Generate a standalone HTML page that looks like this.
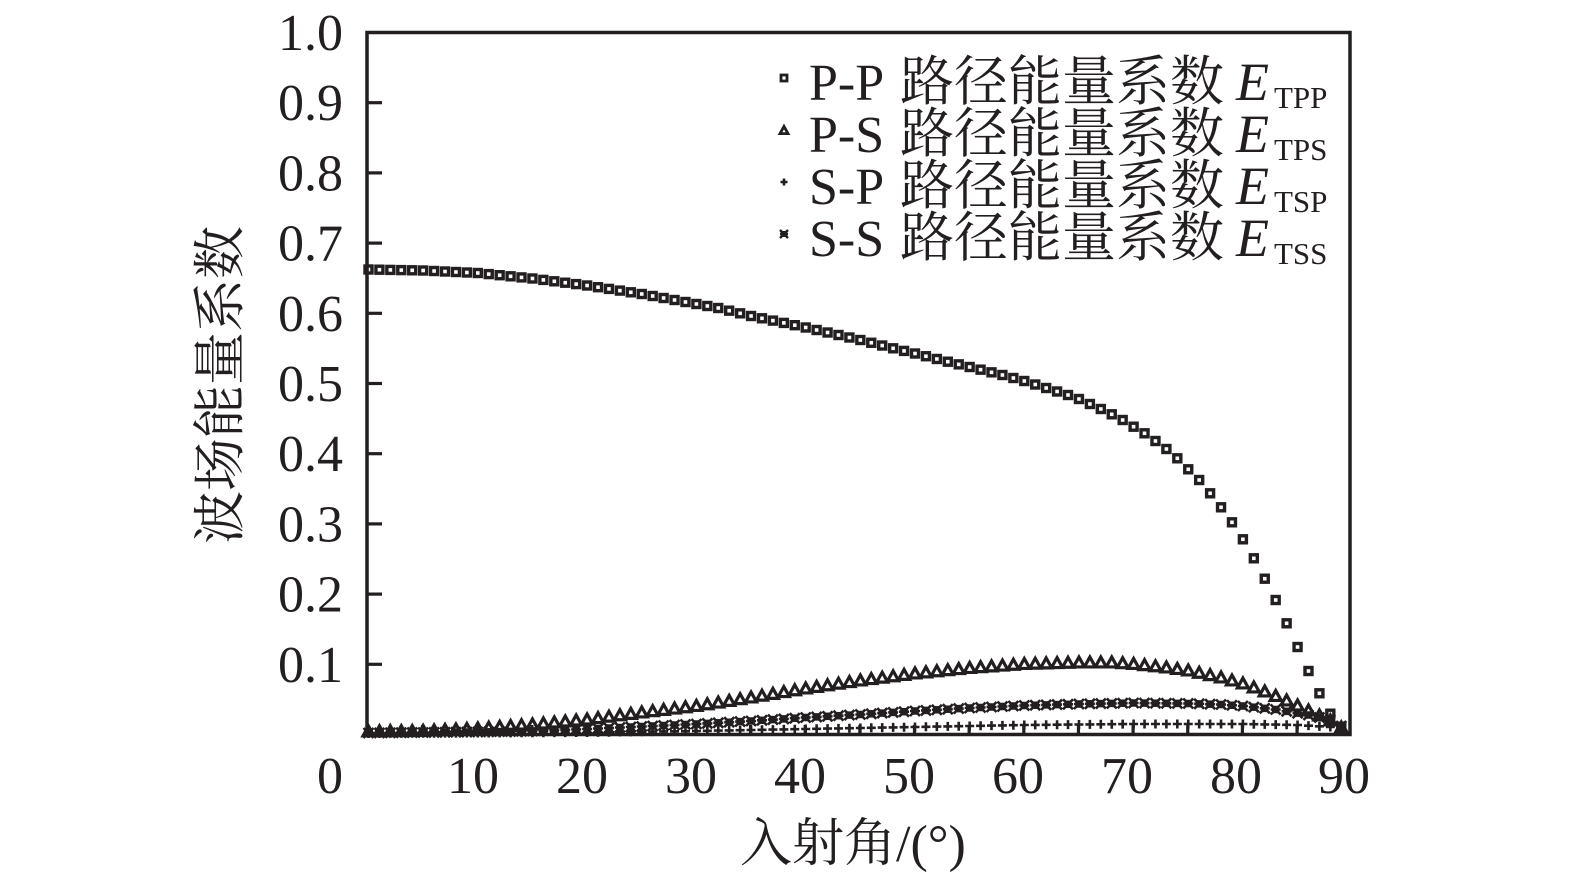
<!DOCTYPE html>
<html>
<head>
<meta charset="utf-8">
<style>
html,body{margin:0;padding:0;background:#fff;}
svg{display:block;}
text{fill:#231f20;}
.lat{font-family:"Liberation Serif","Noto Serif CJK SC",serif;}
.cjk{font-family:"Liberation Serif","Noto Serif CJK SC","Noto Sans CJK SC",serif;}
</style>
</head>
<body>
<svg id="chart" xmlns="http://www.w3.org/2000/svg" width="1575" height="888" viewBox="0 0 1575 888">
  <rect x="0" y="0" width="1575" height="888" fill="#fff"/>
  <g id="series"></g>
  <!-- frame -->
  <rect x="367" y="32.5" width="983" height="702" fill="none" stroke="#231f20" stroke-width="3.5"/>
  <g id="ticks" stroke="#231f20" stroke-width="3.2"></g>

  <!-- y tick labels -->
  <g class="lat" font-size="52" text-anchor="end">
    <text x="343" y="50">1.0</text>
    <text x="343" y="120.2">0.9</text>
    <text x="343" y="190.4">0.8</text>
    <text x="343" y="260.6">0.7</text>
    <text x="343" y="330.8">0.6</text>
    <text x="343" y="401">0.5</text>
    <text x="343" y="471.2">0.4</text>
    <text x="343" y="541.4">0.3</text>
    <text x="343" y="611.6">0.2</text>
    <text x="343" y="681.8">0.1</text>
  </g>
  <!-- x tick labels -->
  <g class="lat" font-size="52" text-anchor="middle">
    <text x="330" y="793">0</text>
    <text x="473" y="793">10</text>
    <text x="582" y="793">20</text>
    <text x="691" y="793">30</text>
    <text x="800" y="793">40</text>
    <text x="909" y="793">50</text>
    <text x="1018" y="793">60</text>
    <text x="1127" y="793">70</text>
    <text x="1236" y="793">80</text>
    <text x="1344" y="793">90</text>
  </g>
  <!-- axis titles -->
  <text class="cjk" x="740" y="861" font-size="52">入射角/(°)</text>
  <text class="cjk" x="0" y="0" font-size="53" text-anchor="middle" dominant-baseline="central" transform="translate(221,385) rotate(-90)">波场能量系数</text>

  <!-- legend -->
  <g id="legend"></g>
</svg>
<script>
(function(){
  var NS="http://www.w3.org/2000/svg";
  var C="#231f20";
  var series=document.getElementById('series');
  var ticks=document.getElementById('ticks');
  var legend=document.getElementById('legend');
  function el(tag,attrs,parent){var e=document.createElementNS(NS,tag);for(var k in attrs)e.setAttribute(k,attrs[k]);(parent||series).appendChild(e);return e;}
  function X(d){return 368.5+10.93*d;}
  function interp(kn,d){
    var ks=Object.keys(kn).map(Number).sort(function(a,b){return a-b;});
    if(d<=ks[0])return kn[ks[0]];
    for(var i=0;i<ks.length-1;i++){
      var a=ks[i],b=ks[i+1];
      if(d>=a&&d<=b){var t=(d-a)/(b-a);return kn[a]+(kn[b]-kn[a])*t;}
    }
    return kn[ks[ks.length-1]];
  }
  // ticks
  for(var k=1;k<=9;k++){var y=734.5-70.2*k;el('line',{x1:367,y1:y,x2:382,y2:y},ticks);}
  for(var d=5;d<90;d+=5){var x=368+10.93*d;el('line',{x1:x,y1:734.5,x2:x,y2:725},ticks);}

  var PP={0:269.5,5:270.5,10:273,15:278.5,20:285.5,25:294,30:304,32:308,35:316,40:327.5,43:335,45:340,48:348.3,50:353.5,53:361.7,55:367,58:375,60:381,62:388,64:395,65:399,66:404,67:409,68:414.3,69:420,70:426.7,71:433.3,72:441,73:449,74:458.3,75:469.3,76:480,77:493.3,78:507.3,79:522.3,80:539.3,81:558.3,82:578.7,83:600,84:623.3,85:647,86:671,87:693.3,88:713.7,89:726.7};
  var PS={0:731,5:730.5,10:728,15:724,20:719,25:712,30:705.5,35:697,40:688,45:680,50:673,55:667.5,60:663.5,65:662,68:662,70:663.5,73:667,75:670,78:677,80:683,82:691,84:700,86:710,88:720,89:727};
  var SS={0:733,10:732,15:731,20:729,25:726.5,30:724,35:721,40:717.5,45:714.5,50:711,55:708,60:705.5,65:704,70:703,75:703.5,78:704.5,80:706,83:709.5,86:715,88:720,89:726};
  var SP={0:733.5,20:732.5,30:731,40:729,50:727,60:725,70:724,80:724,85:725,88:727,89:729};

  function square(x,y,s,sw,p){el('rect',{x:x-s/2,y:y-s/2,width:s,height:s,fill:'none',stroke:C,'stroke-width':sw},p);}
  function tri(x,y,s,sw,p){var h=s*0.9;el('polygon',{points:(x)+','+(y-h/2)+' '+(x+s/2)+','+(y+h/2)+' '+(x-s/2)+','+(y+h/2),fill:'none',stroke:C,'stroke-width':sw,'stroke-linejoin':'miter'},p);}
  function plus(x,y,s,sw,p){el('path',{d:'M'+(x-s/2)+' '+y+'H'+(x+s/2)+'M'+x+' '+(y-s/2)+'V'+(y+s/2),stroke:C,'stroke-width':sw,fill:'none'},p);}
  function star(x,y,s,sw,p){var r=s/2;el('rect',{x:x-r*0.75,y:y-r*0.75,width:r*1.5,height:r*1.5,fill:C},p);el('path',{d:'M'+(x-r)+' '+(y-r)+'L'+(x+r)+' '+(y+r)+'M'+(x-r)+' '+(y+r)+'L'+(x+r)+' '+(y-r)+'M'+(x-r)+' '+y+'H'+(x+r),stroke:C,'stroke-width':sw,fill:'none'},p);}

  var d;
  for(d=0;d<=89;d++){star(X(d),interp(SS,d),10,2.6);}
  for(d=0;d<=89;d++){plus(X(d),interp(SP,d),9,2.6);}
  for(d=0;d<=89;d++){tri(X(d),interp(PS,d),11,3.2);}
  for(d=0;d<=89;d++){square(X(d),interp(PP,d),7,3.4);}

  // legend
  var rows=[{m:square,a:'P-P',s:'TPP'},{m:tri,a:'P-S',s:'TPS'},{m:plus,a:'S-P',s:'TSP'},{m:star,a:'S-S',s:'TSS'}];
  rows.forEach(function(r,i){
    var b=100+52*i;
    var my=b-22;
    if(r.m===square)square(784,my,6,2.8,legend);
    else if(r.m===tri)tri(784,my,8,2.8,legend);
    else if(r.m===plus)plus(784,my,7,2.6,legend);
    else star(784,my,8,2.4,legend);
    var t1=el('text',{x:809,y:b,'font-size':52,'class':'lat'},legend);t1.textContent=r.a;
    var t2=el('text',{x:900,y:b,'font-size':54,'class':'cjk'},legend);t2.textContent='路径能量系数';
    var t3=el('text',{x:1236,y:b,'font-size':54,'font-style':'italic','class':'lat'},legend);t3.textContent='E';
    var t4=el('text',{x:1274,y:b+8,'font-size':31,'class':'lat'},legend);t4.textContent=r.s;
  });
})();
</script>
</body>
</html>
